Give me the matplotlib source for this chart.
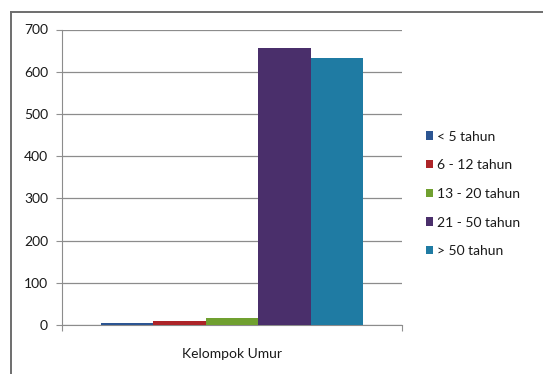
import matplotlib.pyplot as plt
import numpy as np

plt.rcParams['font.family'] = ['Lato', 'DejaVu Sans']

# Jumlah per kelompok umur
labels = ["< 5 tahun", "6 - 12 tahun", "13 - 20 tahun", "21 - 50 tahun", "> 50 tahun"]
values = [4, 10, 17, 655, 632]
colors = ["#2c5592", "#ad2428", "#70a030", "#4a2f6b", "#1f7ba3"]
yticks = [0, 100, 200, 300, 400, 500, 600, 700]

fig = plt.figure(figsize=(5.43, 3.74), dpi=100)
fig.patch.set_facecolor("white")

# outer chart border: a bare axes whose top/left spines run inside the image
frame = fig.add_axes([11 / 543, -0.1, 1.0, 1.1 - 12 / 374])
frame.set_facecolor("none")
frame.set_xticks([])
frame.set_yticks([])
for side in ["right", "bottom"]:
    frame.spines[side].set_visible(False)
for side in ["top", "left"]:
    frame.spines[side].set_color("#6e6e6e")
    frame.spines[side].set_linewidth(1.4)

ax = fig.add_axes([62 / 543, 49 / 374, 340 / 543, 295.5 / 374])

width = 0.154
offsets = (np.arange(len(values)) - (len(values) - 1) / 2) * width
for off, v, c, lab in zip(offsets, values, colors, labels):
    ax.bar(off, v, width=width, color=c, label=lab, zorder=3)

ax.set_xlim(-0.5, 0.5)
ax.set_ylim(0, 700)
ax.set_yticks(yticks)
ax.set_xticks([-0.5, 0.5])
ax.set_xticklabels(["", ""])
ax.tick_params(axis="x", length=4, color="#909090", direction="out")
ax.tick_params(axis="y", length=4, color="#909090", labelsize=10,
               labelcolor="#1a1a1a", pad=6)
ax.grid(axis="y", color="#8c8c8c", linewidth=0.9, zorder=0)
for side in ["top", "right"]:
    ax.spines[side].set_visible(False)
for side in ["left", "bottom"]:
    ax.spines[side].set_color("#8c8c8c")

ax.set_xlabel("Kelompok Umur", fontsize=10, color="#1a1a1a", labelpad=9)

ax.legend(loc="upper left", bbox_to_anchor=(420 / 543, 1 - 125 / 374),
          bbox_transform=fig.transFigure, frameon=False, fontsize=10,
          handlelength=0.55, handleheight=0.55, handletextpad=0.3,
          labelspacing=1.2, borderaxespad=0, labelcolor="#1a1a1a")

fig.savefig("out.png", dpi=100)
